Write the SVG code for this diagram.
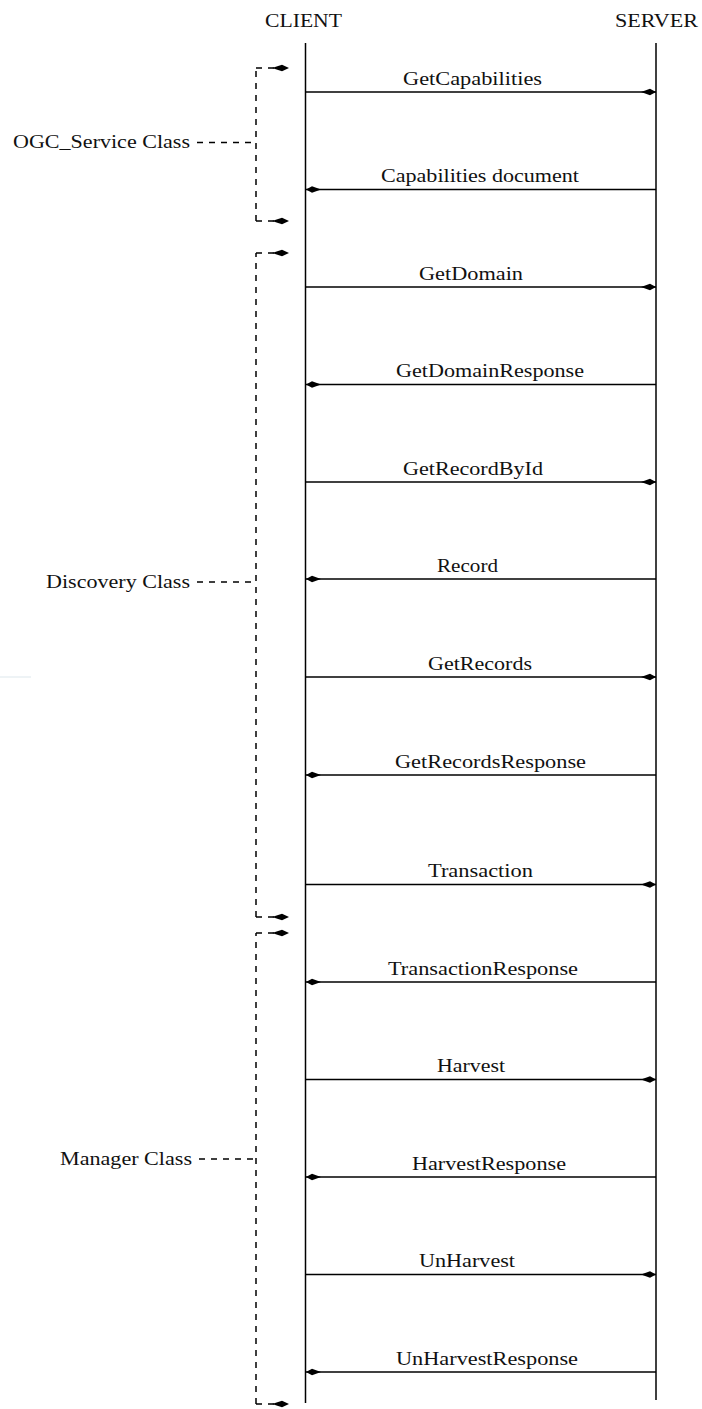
<svg xmlns="http://www.w3.org/2000/svg" width="702" height="1409" viewBox="0 0 702 1409">
<style>
text{font-family:"Liberation Serif","Times New Roman",serif;font-size:19px;fill:#111;}
.life{stroke:#000;stroke-width:1.5;fill:none;}
.msg{stroke:#000;stroke-width:1.5;fill:none;}
.req{marker-end:url(#ah);}
.dash{stroke:#000;stroke-width:1.5;fill:none;stroke-dasharray:6 6;}
.br{marker-end:url(#bh);}
</style>
<defs>
<marker id="ah" markerUnits="userSpaceOnUse" markerWidth="18" markerHeight="10" viewBox="-16 -5 17 10" refX="0" refY="0" orient="auto">
<path d="M0,0 L-6,-3.2 L-15,0 L-6,3.2 Z" fill="#000"/>
</marker>
<marker id="bh" markerUnits="userSpaceOnUse" markerWidth="20" markerHeight="10" viewBox="-18 -5 19 10" refX="0" refY="0" orient="auto">
<path d="M0,0 L-7,-3.2 L-17,0 L-7,3.2 Z" fill="#000"/>
</marker>
</defs>
<line x1="0" y1="677" x2="31" y2="677" stroke="#dde7ec" stroke-width="1"/>
<g id="client">
<text x="265" y="27" textLength="77" lengthAdjust="spacingAndGlyphs">CLIENT</text>
<line class="life" x1="305.5" y1="43" x2="305.5" y2="1403"/>
</g>
<g id="server">
<text x="615" y="27" textLength="83" lengthAdjust="spacingAndGlyphs">SERVER</text>
<line class="life" x1="656" y1="43" x2="656" y2="1400"/>
</g>
<g id="ogc_service_class">
<text x="13" y="148" textLength="177" lengthAdjust="spacingAndGlyphs">OGC_Service Class</text>
<path class="dash" d="M197,142.5 H256"/>
<path class="dash" d="M256,221 V68"/>
<path class="dash br" d="M256,68 H289"/>
<path class="dash br" d="M256,221 H289"/>
</g>
<g id="discovery_class">
<text x="46" y="588" textLength="144" lengthAdjust="spacingAndGlyphs">Discovery Class</text>
<path class="dash" d="M197,582 H256"/>
<path class="dash" d="M256,917 V253"/>
<path class="dash br" d="M256,253 H289"/>
<path class="dash br" d="M256,917 H289"/>
</g>
<g id="manager_class">
<text x="60" y="1165" textLength="132" lengthAdjust="spacingAndGlyphs">Manager Class</text>
<path class="dash" d="M199,1159 H256"/>
<path class="dash" d="M256,1404 V933"/>
<path class="dash br" d="M256,933 H289"/>
<path class="dash br" d="M256,1404 H289"/>
</g>
<g id="connectors">
<line class="msg req" x1="305.5" y1="92" x2="656" y2="92"/>
<line class="msg req" x1="656" y1="189.5" x2="306" y2="189.5"/>
<line class="msg req" x1="305.5" y1="287" x2="656" y2="287"/>
<line class="msg req" x1="656" y1="384.5" x2="306" y2="384.5"/>
<line class="msg req" x1="305.5" y1="482" x2="656" y2="482"/>
<line class="msg req" x1="656" y1="579" x2="306" y2="579"/>
<line class="msg req" x1="305.5" y1="677" x2="656" y2="677"/>
<line class="msg req" x1="656" y1="775" x2="306" y2="775"/>
<line class="msg req" x1="305.5" y1="884.5" x2="656" y2="884.5"/>
<line class="msg req" x1="656" y1="982" x2="306" y2="982"/>
<line class="msg req" x1="305.5" y1="1079.5" x2="656" y2="1079.5"/>
<line class="msg req" x1="656" y1="1177" x2="306" y2="1177"/>
<line class="msg req" x1="305.5" y1="1274.5" x2="656" y2="1274.5"/>
<line class="msg req" x1="656" y1="1372" x2="306" y2="1372"/>
</g>
<g id="labels">
<text x="403" y="85" textLength="139" lengthAdjust="spacingAndGlyphs">GetCapabilities</text>
<text x="381" y="182" textLength="198" lengthAdjust="spacingAndGlyphs">Capabilities document</text>
<text x="419" y="280" textLength="104" lengthAdjust="spacingAndGlyphs">GetDomain</text>
<text x="396" y="377" textLength="188" lengthAdjust="spacingAndGlyphs">GetDomainResponse</text>
<text x="403" y="475" textLength="140" lengthAdjust="spacingAndGlyphs">GetRecordById</text>
<text x="437" y="572" textLength="61" lengthAdjust="spacingAndGlyphs">Record</text>
<text x="428" y="670" textLength="104" lengthAdjust="spacingAndGlyphs">GetRecords</text>
<text x="395" y="768" textLength="191" lengthAdjust="spacingAndGlyphs">GetRecordsResponse</text>
<text x="428" y="877" textLength="105" lengthAdjust="spacingAndGlyphs">Transaction</text>
<text x="388" y="975" textLength="190" lengthAdjust="spacingAndGlyphs">TransactionResponse</text>
<text x="437" y="1072" textLength="68" lengthAdjust="spacingAndGlyphs">Harvest</text>
<text x="412" y="1170" textLength="154" lengthAdjust="spacingAndGlyphs">HarvestResponse</text>
<text x="419" y="1267" textLength="96" lengthAdjust="spacingAndGlyphs">UnHarvest</text>
<text x="396" y="1365" textLength="182" lengthAdjust="spacingAndGlyphs">UnHarvestResponse</text>
</g>
</svg>
